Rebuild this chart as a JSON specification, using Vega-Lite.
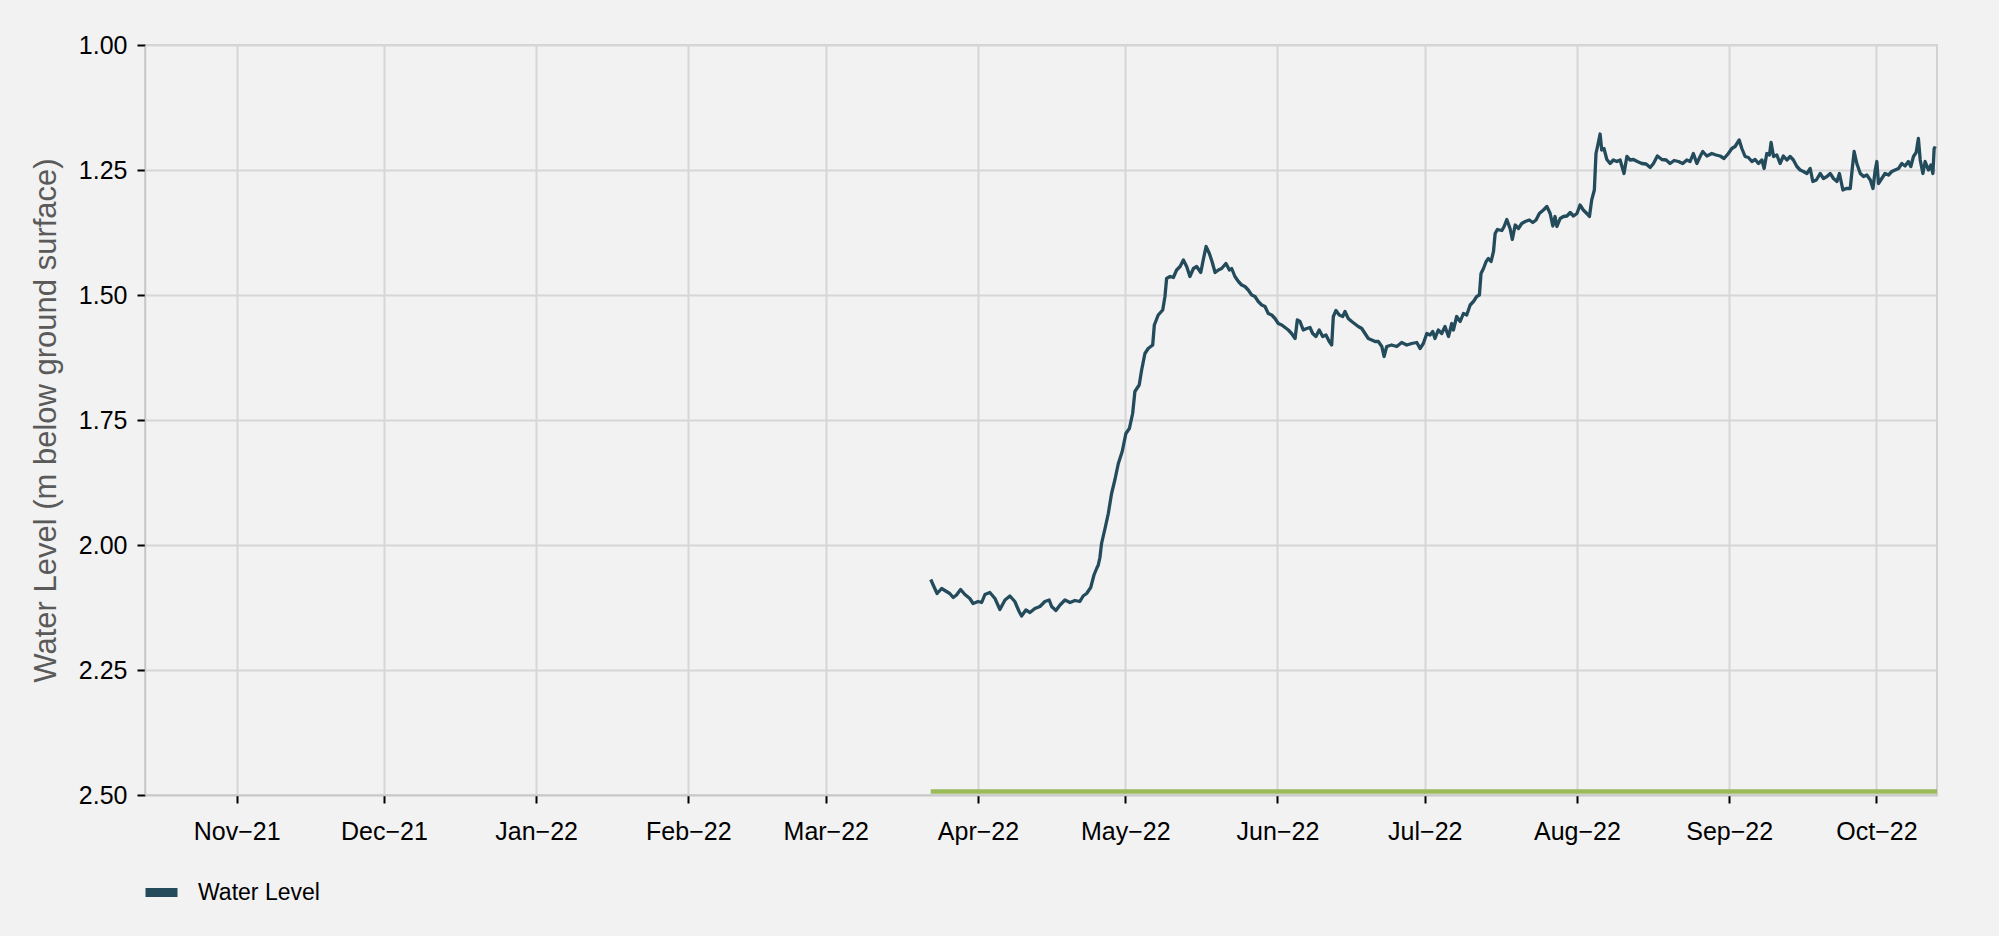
{
  "$schema": "https://vega.github.io/schema/vega-lite/v6.json",
  "width": 1792,
  "height": 750,
  "autosize": {"type": "none"},
  "padding": {"left": 145, "top": 45, "right": 62, "bottom": 141},
  "background": "#f2f2f2",
  "config": {
    "font": "Liberation Sans",
    "view": {"stroke": "#c8c8c8", "strokeWidth": 1.5, "fill": "#f2f2f2"}
  },
  "datasets": {
    "ref": [
      {"date": "2022-03-22T09:00", "level": 2.493},
      {"date": "2022-10-13T08:00", "level": 2.493}
    ],
    "level": [
      {"date": "2022-03-22T09:00", "level": 2.069},
      {"date": "2022-03-22T21:00", "level": 2.080},
      {"date": "2022-03-23T16:00", "level": 2.097},
      {"date": "2022-03-24T14:00", "level": 2.087},
      {"date": "2022-03-25T14:00", "level": 2.093},
      {"date": "2022-03-26T06:00", "level": 2.097},
      {"date": "2022-03-26T23:00", "level": 2.105},
      {"date": "2022-03-27T15:00", "level": 2.100},
      {"date": "2022-03-28T11:00", "level": 2.089},
      {"date": "2022-03-29T08:00", "level": 2.099},
      {"date": "2022-03-30T08:00", "level": 2.107},
      {"date": "2022-03-31T00:00", "level": 2.117},
      {"date": "2022-04-01T01:00", "level": 2.113},
      {"date": "2022-04-01T18:00", "level": 2.115},
      {"date": "2022-04-02T10:00", "level": 2.099},
      {"date": "2022-04-03T10:00", "level": 2.095},
      {"date": "2022-04-04T11:00", "level": 2.107},
      {"date": "2022-04-05T11:00", "level": 2.129},
      {"date": "2022-04-06T12:00", "level": 2.110},
      {"date": "2022-04-07T12:00", "level": 2.102},
      {"date": "2022-04-08T12:00", "level": 2.113},
      {"date": "2022-04-09T09:00", "level": 2.133},
      {"date": "2022-04-09T21:00", "level": 2.142},
      {"date": "2022-04-10T18:00", "level": 2.130},
      {"date": "2022-04-11T14:00", "level": 2.135},
      {"date": "2022-04-12T14:00", "level": 2.127},
      {"date": "2022-04-13T15:00", "level": 2.123},
      {"date": "2022-04-14T15:00", "level": 2.113},
      {"date": "2022-04-15T12:00", "level": 2.110},
      {"date": "2022-04-16T00:00", "level": 2.123},
      {"date": "2022-04-16T21:00", "level": 2.131},
      {"date": "2022-04-17T17:00", "level": 2.120},
      {"date": "2022-04-18T17:00", "level": 2.110},
      {"date": "2022-04-19T18:00", "level": 2.115},
      {"date": "2022-04-20T18:00", "level": 2.111},
      {"date": "2022-04-21T18:00", "level": 2.113},
      {"date": "2022-04-22T10:00", "level": 2.102},
      {"date": "2022-04-23T03:00", "level": 2.097},
      {"date": "2022-04-23T23:00", "level": 2.085},
      {"date": "2022-04-24T15:00", "level": 2.060},
      {"date": "2022-04-25T04:00", "level": 2.047},
      {"date": "2022-04-25T12:00", "level": 2.040},
      {"date": "2022-04-25T20:00", "level": 2.025},
      {"date": "2022-04-26T04:00", "level": 1.997},
      {"date": "2022-04-26T21:00", "level": 1.967},
      {"date": "2022-04-27T13:00", "level": 1.937},
      {"date": "2022-04-28T05:00", "level": 1.897},
      {"date": "2022-04-28T21:00", "level": 1.870},
      {"date": "2022-04-29T14:00", "level": 1.837},
      {"date": "2022-04-30T09:00", "level": 1.813},
      {"date": "2022-05-01T03:00", "level": 1.777},
      {"date": "2022-05-01T20:00", "level": 1.767},
      {"date": "2022-05-02T12:00", "level": 1.737},
      {"date": "2022-05-02T23:00", "level": 1.693},
      {"date": "2022-05-03T20:00", "level": 1.680},
      {"date": "2022-05-04T08:00", "level": 1.650},
      {"date": "2022-05-05T00:00", "level": 1.617},
      {"date": "2022-05-05T16:00", "level": 1.607},
      {"date": "2022-05-06T14:00", "level": 1.600},
      {"date": "2022-05-06T22:00", "level": 1.560},
      {"date": "2022-05-07T17:00", "level": 1.540},
      {"date": "2022-05-08T15:00", "level": 1.530},
      {"date": "2022-05-09T02:00", "level": 1.503},
      {"date": "2022-05-09T10:00", "level": 1.467},
      {"date": "2022-05-10T03:00", "level": 1.463},
      {"date": "2022-05-10T19:00", "level": 1.465},
      {"date": "2022-05-11T11:00", "level": 1.450},
      {"date": "2022-05-12T04:00", "level": 1.443},
      {"date": "2022-05-12T20:00", "level": 1.430},
      {"date": "2022-05-13T12:00", "level": 1.443},
      {"date": "2022-05-14T04:00", "level": 1.463},
      {"date": "2022-05-14T21:00", "level": 1.447},
      {"date": "2022-05-15T13:00", "level": 1.443},
      {"date": "2022-05-16T09:00", "level": 1.455},
      {"date": "2022-05-16T21:00", "level": 1.430},
      {"date": "2022-05-17T11:00", "level": 1.403},
      {"date": "2022-05-18T03:00", "level": 1.417},
      {"date": "2022-05-18T16:00", "level": 1.433},
      {"date": "2022-05-19T07:00", "level": 1.455},
      {"date": "2022-05-19T23:00", "level": 1.450},
      {"date": "2022-05-20T15:00", "level": 1.447},
      {"date": "2022-05-21T12:00", "level": 1.437},
      {"date": "2022-05-22T05:00", "level": 1.450},
      {"date": "2022-05-22T16:00", "level": 1.447},
      {"date": "2022-05-23T08:00", "level": 1.463},
      {"date": "2022-05-24T01:00", "level": 1.473},
      {"date": "2022-05-24T17:00", "level": 1.480},
      {"date": "2022-05-25T09:00", "level": 1.483},
      {"date": "2022-05-26T01:00", "level": 1.490},
      {"date": "2022-05-26T18:00", "level": 1.500},
      {"date": "2022-05-27T10:00", "level": 1.503},
      {"date": "2022-05-28T02:00", "level": 1.513},
      {"date": "2022-05-28T19:00", "level": 1.520},
      {"date": "2022-05-29T11:00", "level": 1.523},
      {"date": "2022-05-30T03:00", "level": 1.537},
      {"date": "2022-05-30T20:00", "level": 1.540},
      {"date": "2022-05-31T12:00", "level": 1.547},
      {"date": "2022-06-01T04:00", "level": 1.557},
      {"date": "2022-06-01T21:00", "level": 1.560},
      {"date": "2022-06-02T13:00", "level": 1.565},
      {"date": "2022-06-03T05:00", "level": 1.570},
      {"date": "2022-06-03T21:00", "level": 1.577},
      {"date": "2022-06-04T14:00", "level": 1.587},
      {"date": "2022-06-05T01:00", "level": 1.550},
      {"date": "2022-06-05T14:00", "level": 1.553},
      {"date": "2022-06-06T06:00", "level": 1.570},
      {"date": "2022-06-06T23:00", "level": 1.567},
      {"date": "2022-06-07T15:00", "level": 1.565},
      {"date": "2022-06-08T04:00", "level": 1.577},
      {"date": "2022-06-08T20:00", "level": 1.583},
      {"date": "2022-06-09T12:00", "level": 1.570},
      {"date": "2022-06-10T05:00", "level": 1.583},
      {"date": "2022-06-10T21:00", "level": 1.580},
      {"date": "2022-06-11T13:00", "level": 1.593},
      {"date": "2022-06-12T01:00", "level": 1.600},
      {"date": "2022-06-12T09:00", "level": 1.543},
      {"date": "2022-06-12T22:00", "level": 1.531},
      {"date": "2022-06-13T14:00", "level": 1.540},
      {"date": "2022-06-14T07:00", "level": 1.543},
      {"date": "2022-06-14T18:00", "level": 1.533},
      {"date": "2022-06-15T10:00", "level": 1.547},
      {"date": "2022-06-16T03:00", "level": 1.553},
      {"date": "2022-06-16T19:00", "level": 1.558},
      {"date": "2022-06-17T11:00", "level": 1.563},
      {"date": "2022-06-18T04:00", "level": 1.567},
      {"date": "2022-06-18T20:00", "level": 1.577},
      {"date": "2022-06-19T12:00", "level": 1.587},
      {"date": "2022-06-20T05:00", "level": 1.590},
      {"date": "2022-06-20T21:00", "level": 1.593},
      {"date": "2022-06-21T13:00", "level": 1.593},
      {"date": "2022-06-22T06:00", "level": 1.603},
      {"date": "2022-06-22T17:00", "level": 1.623},
      {"date": "2022-06-23T06:00", "level": 1.603},
      {"date": "2022-06-24T06:00", "level": 1.600},
      {"date": "2022-06-25T07:00", "level": 1.603},
      {"date": "2022-06-26T07:00", "level": 1.595},
      {"date": "2022-06-27T08:00", "level": 1.600},
      {"date": "2022-06-28T08:00", "level": 1.597},
      {"date": "2022-06-29T09:00", "level": 1.595},
      {"date": "2022-06-30T01:00", "level": 1.607},
      {"date": "2022-06-30T17:00", "level": 1.597},
      {"date": "2022-07-01T10:00", "level": 1.577},
      {"date": "2022-07-02T02:00", "level": 1.580},
      {"date": "2022-07-02T15:00", "level": 1.573},
      {"date": "2022-07-03T02:00", "level": 1.587},
      {"date": "2022-07-03T18:00", "level": 1.570},
      {"date": "2022-07-04T11:00", "level": 1.577},
      {"date": "2022-07-05T03:00", "level": 1.563},
      {"date": "2022-07-05T20:00", "level": 1.583},
      {"date": "2022-07-06T12:00", "level": 1.557},
      {"date": "2022-07-06T20:00", "level": 1.570},
      {"date": "2022-07-07T12:00", "level": 1.543},
      {"date": "2022-07-08T05:00", "level": 1.553},
      {"date": "2022-07-08T21:00", "level": 1.537},
      {"date": "2022-07-09T13:00", "level": 1.540},
      {"date": "2022-07-10T06:00", "level": 1.520},
      {"date": "2022-07-10T22:00", "level": 1.513},
      {"date": "2022-07-11T14:00", "level": 1.503},
      {"date": "2022-07-12T03:00", "level": 1.500},
      {"date": "2022-07-12T11:00", "level": 1.457},
      {"date": "2022-07-12T23:00", "level": 1.447},
      {"date": "2022-07-13T12:00", "level": 1.433},
      {"date": "2022-07-13T23:00", "level": 1.427},
      {"date": "2022-07-14T12:00", "level": 1.433},
      {"date": "2022-07-15T00:00", "level": 1.413},
      {"date": "2022-07-15T08:00", "level": 1.377},
      {"date": "2022-07-15T19:00", "level": 1.369},
      {"date": "2022-07-16T17:00", "level": 1.371},
      {"date": "2022-07-17T04:00", "level": 1.363},
      {"date": "2022-07-17T17:00", "level": 1.349},
      {"date": "2022-07-18T09:00", "level": 1.367},
      {"date": "2022-07-18T20:00", "level": 1.389},
      {"date": "2022-07-19T10:00", "level": 1.360},
      {"date": "2022-07-20T02:00", "level": 1.367},
      {"date": "2022-07-20T18:00", "level": 1.357},
      {"date": "2022-07-21T11:00", "level": 1.353},
      {"date": "2022-07-22T07:00", "level": 1.350},
      {"date": "2022-07-23T00:00", "level": 1.355},
      {"date": "2022-07-23T16:00", "level": 1.350},
      {"date": "2022-07-24T08:00", "level": 1.337},
      {"date": "2022-07-25T04:00", "level": 1.330},
      {"date": "2022-07-25T21:00", "level": 1.323},
      {"date": "2022-07-26T13:00", "level": 1.337},
      {"date": "2022-07-27T02:00", "level": 1.362},
      {"date": "2022-07-27T13:00", "level": 1.343},
      {"date": "2022-07-27T22:00", "level": 1.363},
      {"date": "2022-07-28T14:00", "level": 1.347},
      {"date": "2022-07-29T06:00", "level": 1.343},
      {"date": "2022-07-29T23:00", "level": 1.342},
      {"date": "2022-07-30T15:00", "level": 1.335},
      {"date": "2022-07-31T07:00", "level": 1.342},
      {"date": "2022-08-01T00:00", "level": 1.337},
      {"date": "2022-08-01T15:00", "level": 1.320},
      {"date": "2022-08-02T07:00", "level": 1.330},
      {"date": "2022-08-03T00:00", "level": 1.337},
      {"date": "2022-08-03T13:00", "level": 1.343},
      {"date": "2022-08-04T00:00", "level": 1.310},
      {"date": "2022-08-04T13:00", "level": 1.290},
      {"date": "2022-08-04T21:00", "level": 1.217},
      {"date": "2022-08-05T06:00", "level": 1.200},
      {"date": "2022-08-05T17:00", "level": 1.178},
      {"date": "2022-08-06T01:00", "level": 1.210},
      {"date": "2022-08-06T12:00", "level": 1.207},
      {"date": "2022-08-07T02:00", "level": 1.229},
      {"date": "2022-08-07T18:00", "level": 1.237},
      {"date": "2022-08-08T10:00", "level": 1.230},
      {"date": "2022-08-09T03:00", "level": 1.233},
      {"date": "2022-08-09T19:00", "level": 1.230},
      {"date": "2022-08-10T14:00", "level": 1.257},
      {"date": "2022-08-11T04:00", "level": 1.223},
      {"date": "2022-08-11T20:00", "level": 1.230},
      {"date": "2022-08-12T12:00", "level": 1.229},
      {"date": "2022-08-13T07:00", "level": 1.233},
      {"date": "2022-08-14T05:00", "level": 1.237},
      {"date": "2022-08-15T02:00", "level": 1.238},
      {"date": "2022-08-15T22:00", "level": 1.245},
      {"date": "2022-08-16T14:00", "level": 1.237},
      {"date": "2022-08-17T09:00", "level": 1.222},
      {"date": "2022-08-18T07:00", "level": 1.229},
      {"date": "2022-08-19T04:00", "level": 1.230},
      {"date": "2022-08-19T23:00", "level": 1.237},
      {"date": "2022-08-20T19:00", "level": 1.231},
      {"date": "2022-08-21T16:00", "level": 1.233},
      {"date": "2022-08-22T13:00", "level": 1.237},
      {"date": "2022-08-23T09:00", "level": 1.230},
      {"date": "2022-08-24T01:00", "level": 1.233},
      {"date": "2022-08-24T17:00", "level": 1.217},
      {"date": "2022-08-25T10:00", "level": 1.237},
      {"date": "2022-08-26T02:00", "level": 1.223},
      {"date": "2022-08-26T15:00", "level": 1.213},
      {"date": "2022-08-27T11:00", "level": 1.222},
      {"date": "2022-08-28T11:00", "level": 1.217},
      {"date": "2022-08-29T08:00", "level": 1.220},
      {"date": "2022-08-30T04:00", "level": 1.222},
      {"date": "2022-08-30T23:00", "level": 1.227},
      {"date": "2022-08-31T20:00", "level": 1.217},
      {"date": "2022-09-01T13:00", "level": 1.207},
      {"date": "2022-09-02T05:00", "level": 1.203},
      {"date": "2022-09-03T01:00", "level": 1.190},
      {"date": "2022-09-03T14:00", "level": 1.207},
      {"date": "2022-09-04T06:00", "level": 1.223},
      {"date": "2022-09-04T22:00", "level": 1.225},
      {"date": "2022-09-05T15:00", "level": 1.233},
      {"date": "2022-09-06T07:00", "level": 1.229},
      {"date": "2022-09-06T23:00", "level": 1.237},
      {"date": "2022-09-07T16:00", "level": 1.230},
      {"date": "2022-09-08T03:00", "level": 1.247},
      {"date": "2022-09-08T16:00", "level": 1.217},
      {"date": "2022-09-09T05:00", "level": 1.220},
      {"date": "2022-09-09T13:00", "level": 1.195},
      {"date": "2022-09-10T01:00", "level": 1.223},
      {"date": "2022-09-10T17:00", "level": 1.220},
      {"date": "2022-09-11T09:00", "level": 1.237},
      {"date": "2022-09-12T01:00", "level": 1.222},
      {"date": "2022-09-12T18:00", "level": 1.230},
      {"date": "2022-09-13T10:00", "level": 1.223},
      {"date": "2022-09-14T02:00", "level": 1.230},
      {"date": "2022-09-14T19:00", "level": 1.243},
      {"date": "2022-09-15T11:00", "level": 1.250},
      {"date": "2022-09-16T03:00", "level": 1.253},
      {"date": "2022-09-16T20:00", "level": 1.257},
      {"date": "2022-09-17T12:00", "level": 1.247},
      {"date": "2022-09-18T01:00", "level": 1.273},
      {"date": "2022-09-18T18:00", "level": 1.270},
      {"date": "2022-09-19T13:00", "level": 1.257},
      {"date": "2022-09-20T05:00", "level": 1.267},
      {"date": "2022-09-20T22:00", "level": 1.263},
      {"date": "2022-09-21T14:00", "level": 1.257},
      {"date": "2022-09-22T06:00", "level": 1.267},
      {"date": "2022-09-22T23:00", "level": 1.273},
      {"date": "2022-09-23T11:00", "level": 1.257},
      {"date": "2022-09-24T04:00", "level": 1.290},
      {"date": "2022-09-24T20:00", "level": 1.287},
      {"date": "2022-09-25T16:00", "level": 1.287},
      {"date": "2022-09-26T01:00", "level": 1.250},
      {"date": "2022-09-26T11:00", "level": 1.213},
      {"date": "2022-09-27T00:00", "level": 1.237},
      {"date": "2022-09-27T17:00", "level": 1.257},
      {"date": "2022-09-28T09:00", "level": 1.263},
      {"date": "2022-09-29T01:00", "level": 1.260},
      {"date": "2022-09-29T18:00", "level": 1.270},
      {"date": "2022-09-30T07:00", "level": 1.287},
      {"date": "2022-09-30T18:00", "level": 1.250},
      {"date": "2022-10-01T02:00", "level": 1.233},
      {"date": "2022-10-01T10:00", "level": 1.277},
      {"date": "2022-10-02T02:00", "level": 1.267},
      {"date": "2022-10-02T18:00", "level": 1.257},
      {"date": "2022-10-03T11:00", "level": 1.260},
      {"date": "2022-10-04T03:00", "level": 1.253},
      {"date": "2022-10-04T19:00", "level": 1.250},
      {"date": "2022-10-05T12:00", "level": 1.247},
      {"date": "2022-10-06T04:00", "level": 1.237},
      {"date": "2022-10-06T20:00", "level": 1.242},
      {"date": "2022-10-07T12:00", "level": 1.233},
      {"date": "2022-10-08T00:00", "level": 1.243},
      {"date": "2022-10-08T13:00", "level": 1.223},
      {"date": "2022-10-09T02:00", "level": 1.215},
      {"date": "2022-10-09T13:00", "level": 1.187},
      {"date": "2022-10-09T22:00", "level": 1.230},
      {"date": "2022-10-10T11:00", "level": 1.257},
      {"date": "2022-10-10T22:00", "level": 1.233},
      {"date": "2022-10-11T14:00", "level": 1.250},
      {"date": "2022-10-12T02:00", "level": 1.240},
      {"date": "2022-10-12T12:00", "level": 1.257},
      {"date": "2022-10-12T18:00", "level": 1.207},
      {"date": "2022-10-13T00:00", "level": 1.203}
    ]
  },
  "encoding": {
    "x": {
      "field": "date",
      "type": "temporal",
      "scale": {
        "domain": [
          {"year": 2021, "month": 10, "date": 13, "hours": 8},
          {"year": 2022, "month": 10, "date": 13, "hours": 8}
        ]
      },
      "axis": {
        "title": null,
        "format": "%b\u2212%y",
        "tickCount": {"interval": "month", "step": 1},
        "labelFontSize": 25,
        "labelColor": "#000000",
        "labelPadding": 16,
        "labelFlush": false,
        "labelOverlap": false,
        "tickColor": "#000000",
        "tickSize": 8,
        "tickWidth": 2,
        "grid": true,
        "gridColor": "#d6d6d6",
        "gridWidth": 2,
        "domainColor": "#c8c8c8",
        "domainWidth": 1.5
      }
    },
    "y": {
      "field": "level",
      "type": "quantitative",
      "scale": {"domain": [1, 2.5], "reverse": true, "nice": false, "zero": false},
      "axis": {
        "title": "Water Level (m below ground surface)",
        "values": [1, 1.25, 1.5, 1.75, 2, 2.25, 2.5],
        "format": ".2f",
        "labelFontSize": 25,
        "labelColor": "#000000",
        "labelPadding": 10,
        "tickColor": "#000000",
        "tickSize": 8,
        "tickWidth": 2,
        "grid": true,
        "gridColor": "#d6d6d6",
        "gridWidth": 2,
        "domainColor": "#c8c8c8",
        "domainWidth": 1.5,
        "titleFontSize": 31,
        "titleFontWeight": "normal",
        "titleColor": "#5a5a5a",
        "titlePadding": 16
      }
    }
  },
  "layer": [
    {
      "data": {"name": "ref"},
      "mark": {"type": "line", "color": "#9bbb59", "strokeWidth": 4.5}
    },
    {
      "data": {"name": "level"},
      "mark": {"type": "line", "strokeWidth": 3.3, "strokeJoin": "round"},
      "encoding": {
        "color": {
          "datum": "Water Level",
          "scale": {"range": ["#234b5b"]},
          "legend": {
            "orient": "none",
            "legendX": -4,
            "legendY": 827,
            "title": null,
            "padding": 0,
            "symbolType": "stroke",
            "symbolSize": 1024,
            "symbolStrokeWidth": 9,
            "labelFontSize": 23,
            "labelColor": "#000000",
            "labelOffset": 16
          }
        }
      }
    }
  ]
}
